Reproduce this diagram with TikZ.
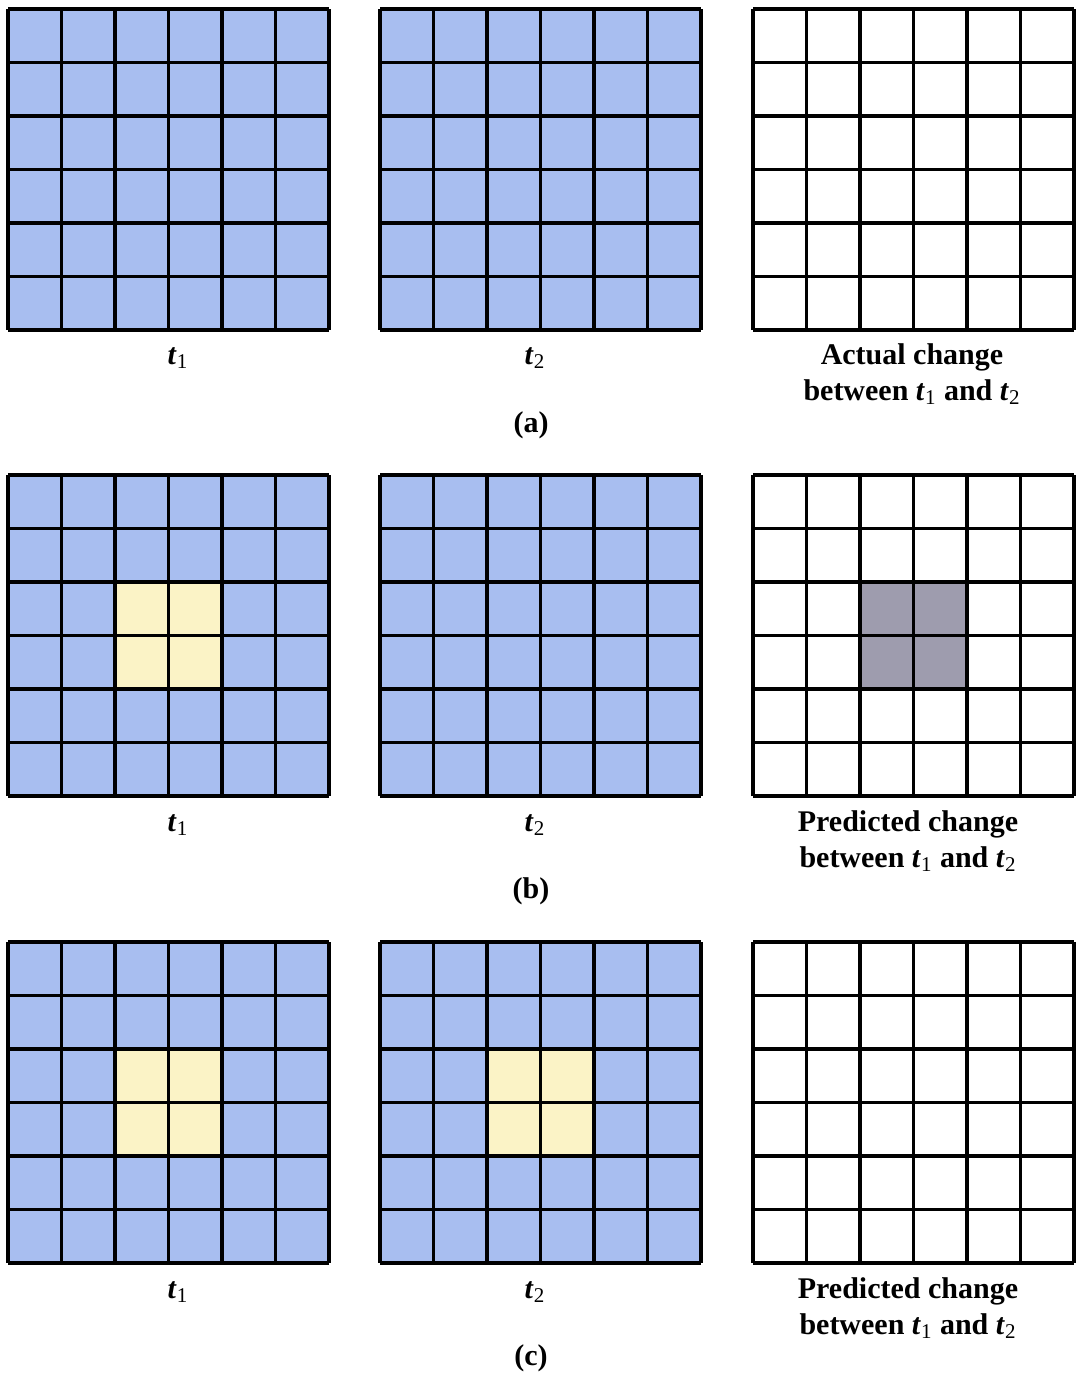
\documentclass[tikz,border=0pt]{standalone}
\usepackage{fontspec}
\setmainfont{Liberation Serif}
\definecolor{cellblue}{HTML}{A8BEF0}
\definecolor{cellyellow}{HTML}{FBF3C6}
\definecolor{cellgray}{HTML}{9E9CAE}
\tikzset{
  gridline/.style={line width=1.8pt, black},
  lbl/.style={font=\fontsize{15}{17}\selectfont\bfseries, align=center, inner sep=0pt},
}
\newcommand{\tone}{\textit{t}\textsubscript{\mdseries 1}}
\newcommand{\ttwo}{\textit{t}\textsubscript{\mdseries 2}}
% #1 x0, #2 y0, #3 base colour
\newcommand{\mygrid}[3]{%
  \fill[#3] (#1,#2) rectangle ++(321,321);
}
\newcommand{\mycell}[5]{% x0 y0 col row colour
  \fill[#5] ({#1+#3*53.5},{#2+#4*53.5}) rectangle ++(53.5,53.5);
}
\newcommand{\mylines}[2]{%
  \foreach \k in {0,...,6} {
    \draw[gridline] ({#1+\k*53.5},#2) -- ++(0,321);
    \draw[gridline] (#1,{#2+\k*53.5}) -- ++(321,0);
  }
}
\begin{document}
\begin{tikzpicture}[x=0.5pt,y=-0.5pt]
\useasboundingbox[fill=white] (0,0) rectangle (1076,1373);
% row a
\mygrid{8}{9}{cellblue}
\mygrid{380}{9}{cellblue}
\mygrid{753}{9}{white}
% row b
\mygrid{8}{475}{cellblue}
\foreach \c/\r in {2/2,3/2,2/3,3/3} {\mycell{8}{475}{\c}{\r}{cellyellow}}
\mygrid{380}{475}{cellblue}
\mygrid{753}{475}{white}
\foreach \c/\r in {2/2,3/2,2/3,3/3} {\mycell{753}{475}{\c}{\r}{cellgray}}
% row c
\mygrid{8}{942}{cellblue}
\foreach \c/\r in {2/2,3/2,2/3,3/3} {\mycell{8}{942}{\c}{\r}{cellyellow}}
\mygrid{380}{942}{cellblue}
\foreach \c/\r in {2/2,3/2,2/3,3/3} {\mycell{380}{942}{\c}{\r}{cellyellow}}
\mygrid{753}{942}{white}
% lines
\foreach \y in {9,475,942} {
  \mylines{8}{\y}
  \mylines{380}{\y}
  \mylines{753}{\y}
}
% labels row a
\node[lbl] (a1) at (178,358) {\tone};
\node[lbl] (a2) at (535,358) {\ttwo};
\node[lbl] (a3) at (912,374) {Actual change\\[1pt] between \tone{} and \ttwo};
\node[lbl] (acap) at (531,425) {(a)};
% labels row b
\node[lbl] (b1) at (178,825) {\tone};
\node[lbl] (b2) at (535,825) {\ttwo};
\node[lbl] (b3) at (908,841) {Predicted change\\[1pt] between \tone{} and \ttwo};
\node[lbl] (bcap) at (531,891) {(b)};
% labels row c
\node[lbl] (c1) at (178,1292) {\tone};
\node[lbl] (c2) at (535,1292) {\ttwo};
\node[lbl] (c3) at (908,1308) {Predicted change\\[1pt] between \tone{} and \ttwo};
\node[lbl] (ccap) at (531,1358) {(c)};
\end{tikzpicture}
\end{document}
